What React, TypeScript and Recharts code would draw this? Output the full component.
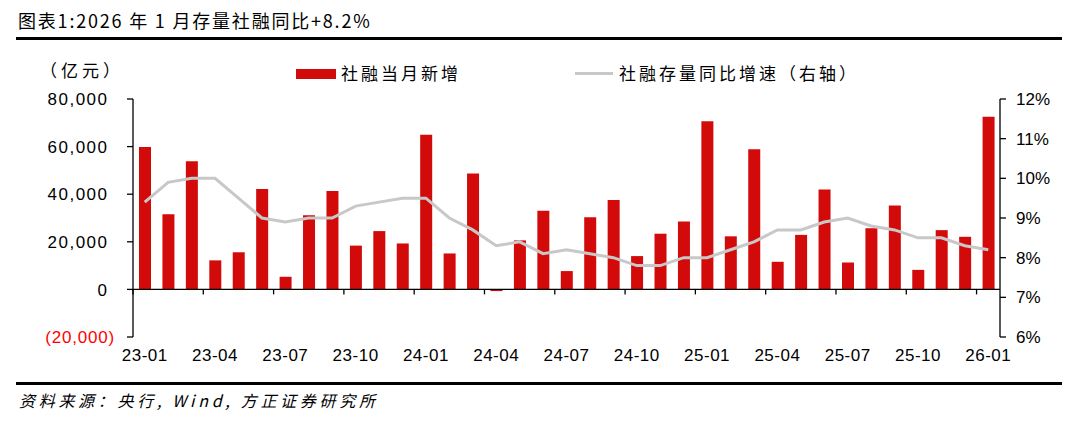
import React from 'react';
import { ComposedChart, Bar, Line, XAxis, YAxis, ReferenceLine } from 'recharts';

const months = [
  '23-01', '23-02', '23-03', '23-04', '23-05', '23-06', '23-07', '23-08', '23-09', '23-10', '23-11', '23-12',
  '24-01', '24-02', '24-03', '24-04', '24-05', '24-06', '24-07', '24-08', '24-09', '24-10', '24-11', '24-12',
  '25-01', '25-02', '25-03', '25-04', '25-05', '25-06', '25-07', '25-08', '25-09', '25-10', '25-11', '25-12',
  '26-01',
];

// 社融当月新增（亿元）
const newFinancing = [
  59800, 31600, 53800, 12200, 15600, 42200, 5300, 31200, 41300, 18400, 24500, 19300,
  65000, 15100, 48700, -700, 20600, 33000, 7700, 30300, 37600, 14000, 23400, 28500,
  70600, 22300, 58900, 11600, 22900, 42000, 11300, 25700, 35300, 8200, 24900, 22100,
  72500,
];

// 社融存量同比增速（%）
const stockYoy = [
  9.4, 9.9, 10.0, 10.0, 9.5, 9.0, 8.9, 9.0, 9.0, 9.3, 9.4, 9.5,
  9.5, 9.0, 8.7, 8.3, 8.4, 8.1, 8.2, 8.1, 8.0, 7.8, 7.8, 8.0,
  8.0, 8.2, 8.4, 8.7, 8.7, 8.9, 9.0, 8.8, 8.7, 8.5, 8.5, 8.3,
  8.2,
];

const leftTicks = [-20000, 0, 20000, 40000, 60000, 80000];
const rightTicks = [6, 7, 8, 9, 10, 11, 12];

const RED = '#d20a0a';
const GREY = '#c8c8c8';
const NUM_FONT = '"Liberation Sans", Arial, sans-serif';
const CJK_FONT = '"Noto Sans CJK SC", sans-serif';

const data = months.map((m, i) => ({ month: m, tsf: newFinancing[i], yoy: stockYoy[i] }));

const fmt = (v: number) => Math.abs(v).toLocaleString('en-US');

const LeftTick = (props: any) => {
  const { x, y, payload } = props;
  const v = payload.value as number;
  const neg = v < 0;
  return (
    <text x={neg ? x + 8 : x + 1.5} y={y} dy="0.36em" textAnchor="end" fontSize={17}
      fontFamily={NUM_FONT} fill={neg ? '#ff0000' : '#000'} letterSpacing={neg ? 0.8 : 1.5}>
      {neg ? `(${fmt(v)})` : fmt(v)}
    </text>
  );
};

const RightTick = (props: any) => {
  const { x, y, payload } = props;
  return (
    <text x={x} y={y} dy="0.36em" textAnchor="start" fontSize={17} fontFamily={NUM_FONT} fill="#000">
      {payload.value}%
    </text>
  );
};

const MonthTick = (props: any) => {
  const { x, y, payload } = props;
  return (
    <text x={x} y={y} dy="0.71em" textAnchor="middle" fontSize={17} fontFamily={NUM_FONT} fill="#000"
      letterSpacing={0.5}>
      {payload.value}
    </text>
  );
};

// zero line with tick marks at band boundaries every 3 months
const ZeroLine = (props: any) => {
  const { x1, x2, y1 } = props;
  const bw = (x2 - x1) / months.length;
  const marks = months.map((_, i) => i).filter((i) => i % 3 === 0);
  return (
    <g>
      <line x1={x1} x2={x2} y1={y1} y2={y1} stroke="#000" strokeWidth={1.3} />
      {marks.map((i) => (
        <line key={i} x1={x1 + i * bw} x2={x1 + i * bw} y1={y1} y2={y1 + 5} stroke="#000" strokeWidth={1.3} />
      ))}
    </g>
  );
};

export default function App() {
  return (
    <div style={{ position: 'relative', width: 1080, height: 429, margin: -8, background: '#fff', overflow: 'hidden' }}>
      <div style={{ position: 'absolute', left: 18, top: 7, fontFamily: CJK_FONT, fontSize: 18, color: '#000', letterSpacing: 1.8 }}>
        图表1:2026 年 1 月存量社融同比+8.2%
      </div>
      <div style={{ position: 'absolute', left: 16, top: 37, width: 1046, height: 3, background: '#000' }} />

      <div style={{ position: 'absolute', left: 40, top: 57, fontFamily: CJK_FONT, fontSize: 17, letterSpacing: 4 }}>（亿元）</div>

      <div style={{ position: 'absolute', left: 296, top: 69, width: 40, height: 10, background: RED }} />
      <div style={{ position: 'absolute', left: 341, top: 60, fontFamily: CJK_FONT, fontSize: 17, letterSpacing: 3 }}>
        社融当月新增
      </div>
      <div style={{ position: 'absolute', left: 575, top: 72, width: 38, height: 3, background: GREY }} />
      <div style={{ position: 'absolute', left: 619, top: 60, fontFamily: CJK_FONT, fontSize: 17, letterSpacing: 3 }}>
        社融存量同比增速（右轴）
      </div>

      <div style={{ position: 'absolute', left: 0, top: 0 }}>
        <ComposedChart width={1080} height={429} data={data}
          margin={{ top: 99, right: 30, bottom: 62, left: 73 }}>
          <XAxis dataKey="month" interval={2} axisLine={false} tickLine={false}
            tick={<MonthTick />} tickMargin={6} height={30} />
          <YAxis yAxisId="left" domain={[-20000, 80000]} ticks={leftTicks} width={60}
            axisLine={{ stroke: '#000', strokeWidth: 1.3 }} tickLine={{ stroke: '#000', strokeWidth: 1.3 }}
            tickSize={6} tickMargin={20} tick={<LeftTick />} />
          <YAxis yAxisId="right" orientation="right" domain={[6, 12]} ticks={rightTicks} width={50}
            axisLine={{ stroke: '#000', strokeWidth: 1.3 }} tickLine={{ stroke: '#000', strokeWidth: 1.3 }}
            tickSize={6} tickMargin={10} tick={<RightTick />} />
          <Bar yAxisId="left" dataKey="tsf" fill={RED} barSize={12} isAnimationActive={false} />
          <ReferenceLine yAxisId="left" y={0} shape={<ZeroLine />} />
          <Line yAxisId="right" dataKey="yoy" type="linear" stroke={GREY} strokeWidth={3}
            dot={false} isAnimationActive={false} />
        </ComposedChart>
      </div>

      <div style={{ position: 'absolute', left: 16, top: 382, width: 1046, height: 3, background: '#000' }} />
      <div style={{ position: 'absolute', left: 19, top: 388, fontFamily: CJK_FONT, fontSize: 16, fontStyle: 'italic', letterSpacing: 3.7 }}>
        资料来源：央行, Wind, 方正证券研究所
      </div>
    </div>
  );
}
